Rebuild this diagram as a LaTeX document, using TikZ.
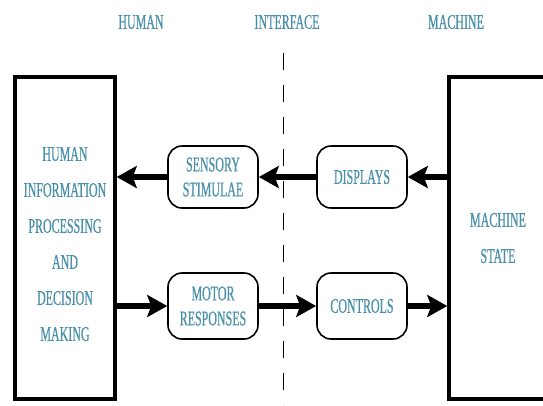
\documentclass[tikz,border=0pt]{standalone}
\usepackage{fontspec}
\setmainfont{Liberation Serif}[FakeStretch=0.57, FakeBold=0.6]
\usetikzlibrary{arrows.meta}
\definecolor{labelblue}{RGB}{74,144,170}
\tikzset{
  bigbox/.style={draw, line width=3.5pt, align=center, text=labelblue,
    font=\fontsize{21}{36}\selectfont},
  stage/.style={draw, line width=1.6pt, rounded corners=14pt, align=center,
    minimum width=90pt, text=labelblue, font=\fontsize{21}{25}\selectfont},
  flow/.style={line width=6pt, -{Stealth[length=20pt,width=22pt,inset=4pt]}},
  heading/.style={text=labelblue, font=\fontsize{21}{22}\selectfont},
}
\begin{document}
\begin{tikzpicture}[x=1pt, y=-1pt]
  \clip (0,0) rectangle (543,405);
  % headings
  \node[heading] (human) at (141,22) {HUMAN};
  \node[heading] (interface) at (287,22) {INTERFACE};
  \node[heading] (machine) at (456,22) {MACHINE};
  % interface line
  \coordinate (dtop) at (283,53);
  \coordinate (dbot) at (283,405);
  \draw[line width=1pt, dash pattern=on 17pt off 15pt] (dtop) -- (dbot);
  % boxes
  \node[bigbox, minimum width=100pt, minimum height=322pt] (hpi) at (65,238)
    {\rule{0pt}{26pt}HUMAN\\INFORMATION\\PROCESSING\\AND\\DECISION\\MAKING};
  \node[bigbox, minimum width=98pt, minimum height=322pt] (mstate) at (498,238)
    {MACHINE\\STATE};
  \node[stage, minimum height=62pt] (sens) at (213,177) {SENSORY\\STIMULAE};
  \node[stage, minimum height=62pt] (disp) at (362,177) {DISPLAYS};
  \node[stage, minimum height=66pt] (motor) at (213,306) {MOTOR\\RESPONSES};
  \node[stage, minimum height=66pt] (ctrl) at (362,306) {CONTROLS};
  % arrows
  \draw[flow] (mstate.west |- disp) -- (disp);
  \draw[flow] (disp) -- (sens);
  \draw[flow] (sens) -- (sens -| hpi.east);
  \draw[flow] (hpi.east |- motor) -- (motor);
  \draw[flow] (motor) -- (ctrl);
  \draw[flow] (ctrl) -- (ctrl -| mstate.west);
\end{tikzpicture}
\end{document}
